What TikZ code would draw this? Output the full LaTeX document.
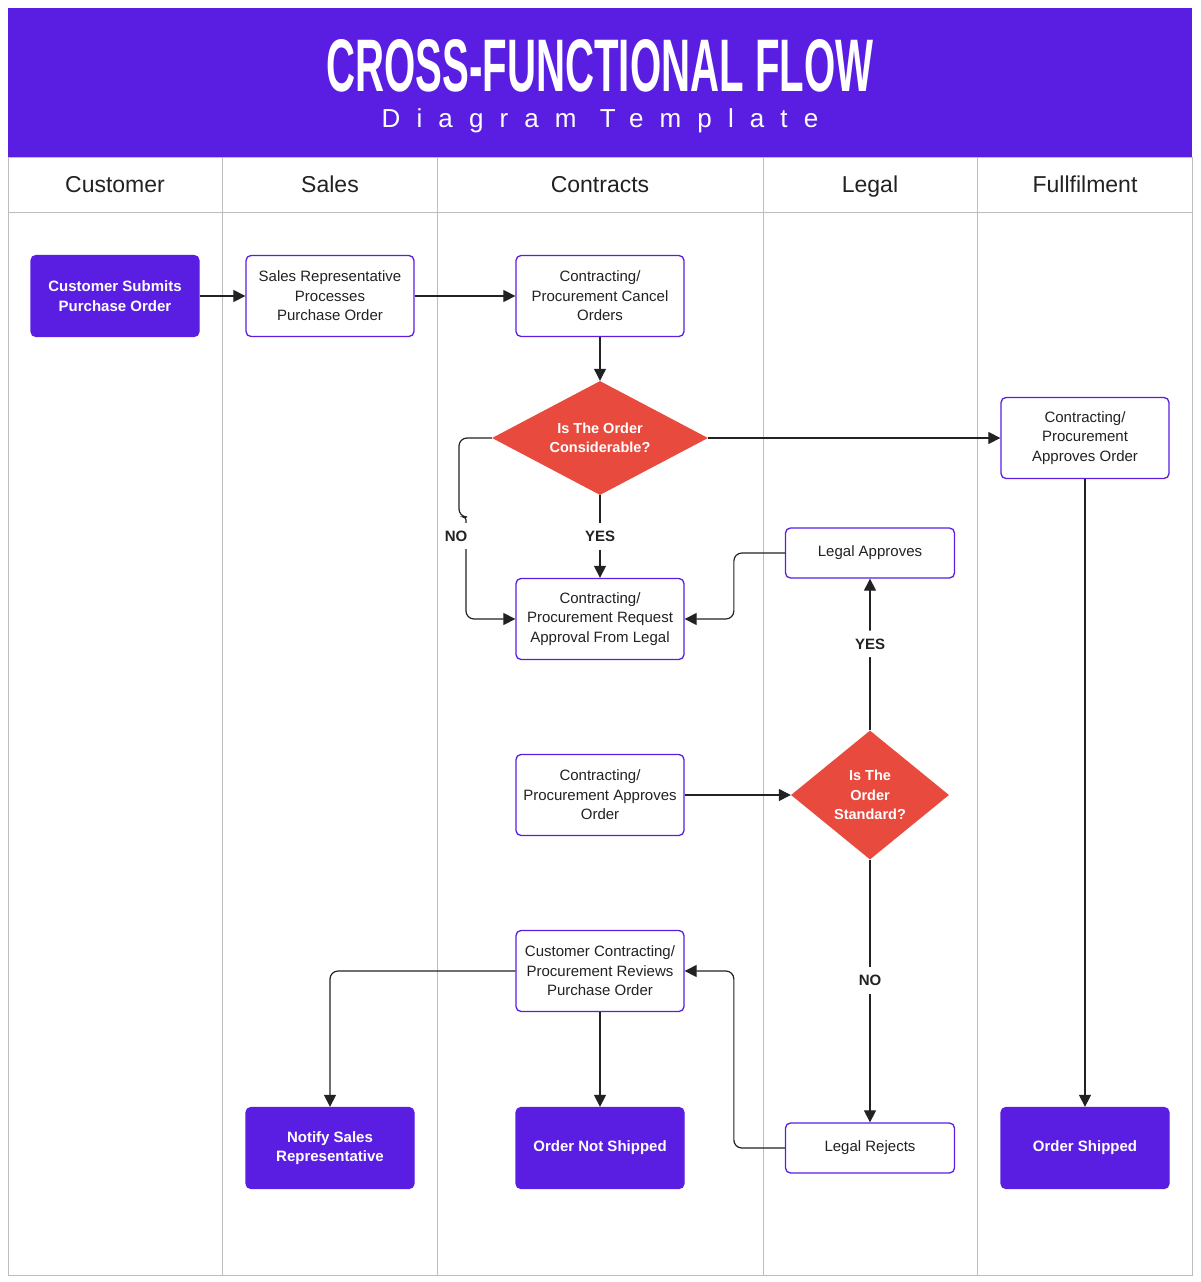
\documentclass[tikz,border=0pt]{standalone}
\usepackage{fontspec}
\setmainfont{Liberation Sans}
\newfontfamily\spacedfont[LetterSpace=62]{Liberation Sans}
\usetikzlibrary{arrows.meta, positioning, shapes.geometric}
\definecolor{lanePurple}{HTML}{5A1EE3}
\definecolor{decisionRed}{HTML}{E84A3E}
\definecolor{laneGrey}{HTML}{BDBDBD}
\definecolor{inkDark}{HTML}{222222}
\tikzset{CrossFlow/.style={
    x = 1pt, y = -1pt,
    base/.style = {draw=lanePurple, line width=1.3pt, rounded corners=5pt, minimum width=168pt, minimum height=81pt, align=center, inner sep=2pt},
    process/.style = {base, fill=white, text=inkDark, font=\fontsize{15}{19.5}\selectfont},
    shortproc/.style = {process, minimum width=169pt, minimum height=50pt},
    terminal/.style = {base, fill=lanePurple, text=white, font=\fontsize{15}{19.5}\selectfont\bfseries},
    decision/.style = {diamond, fill=decisionRed, text=white, inner sep=0pt, align=center, font=\fontsize{14.5}{19.5}\selectfont\bfseries},
    lanehead/.style = {anchor=base, text=inkDark, font=\fontsize{23}{26}\selectfont},
    lane/.style = {draw=laneGrey, line width=0.9pt},
    answer/.style = {fill=white, text=inkDark, inner xsep=2pt, inner ysep=8pt, font=\fontsize{15}{18}\selectfont\bfseries},
    flow/.style = {draw=inkDark, line width=1.2pt, rounded corners=8pt, -{Triangle[length=12pt, width=12pt]}}
}}

\begin{document}
\begin{tikzpicture}[CrossFlow]
    \useasboundingbox (0,0) rectangle (1200,1282);

    % header band and lanes
    \fill [lanePurple] (8,8) rectangle (1192,157);
    \node [inner sep=0pt, text=white] (title) at (600,66) {\resizebox{547pt}{52pt}{\bfseries CROSS-FUNCTIONAL FLOW}};
    \node [inner sep=0pt, anchor=base, text=white, font=\spacedfont\fontsize{26}{30}\selectfont] (subtitle) at (600,127) {Diagram Template};
    \draw [lane] (8,157) rectangle (1192,1275);
    \draw [lane] (8,212) -- (1192,212)
        (222,157) -- (222,1275)
        (437,157) -- (437,1275)
        (763,157) -- (763,1275)
        (977,157) -- (977,1275);
    \node [lanehead] (hdCustomer) at (115,192) {Customer};
    \node [lanehead] (hdSales) at (330,192) {Sales};
    \node [lanehead] (hdContracts) at (600,192) {Contracts};
    \node [lanehead] (hdLegal) at (870,192) {Legal};
    \node [lanehead] (hdFulfil) at (1085,192) {Fullfilment};

    % steps
    \node [terminal] (submit) at (115,296) {Customer Submits\\Purchase Order};
    \node [process] (salesRep) at (330,296) {Sales Representative\\Processes\\Purchase Order};
    \node [process] (cancel) at (600,296) {Contracting/\\Procurement Cancel\\Orders};
    \node [decision, aspect=1.9, minimum width=216pt, minimum height=114pt] (considerable) at (600,438) {Is The Order\\Considerable?};
    \node [process] (fulfilApproves) at (1085,438) {Contracting/\\Procurement\\Approves Order};
    \node [shortproc] (legalApproves) at (870,553) {Legal Approves};
    \node [process] (requestLegal) at (600,619) {Contracting/\\Procurement Request\\Approval From Legal};
    \node [process] (contractApproves) at (600,795) {Contracting/\\Procurement Approves\\Order};
    \node [decision, aspect=1.22, minimum width=158pt, minimum height=129pt] (standard) at (870,795) {Is The\\Order\\Standard?};
    \node [process] (reviews) at (600,971) {Customer Contracting/\\Procurement Reviews\\Purchase Order};
    \node [terminal] (notifySales) at (330,1148) {Notify Sales\\Representative};
    \node [terminal] (notShipped) at (600,1148) {Order Not Shipped};
    \node [shortproc] (legalRejects) at (870,1148) {Legal Rejects};
    \node [terminal] (shipped) at (1085,1148) {Order Shipped};

    % connectors
    \draw [flow] (submit) -- (salesRep);
    \draw [flow] (salesRep) -- (cancel);
    \draw [flow] (cancel) -- (considerable);
    \draw [flow] (considerable) -- (fulfilApproves);
    \draw [flow] (considerable) -- node [answer] {YES} (requestLegal);
    \draw [flow] (considerable.west) -- (459,438) -- (459,517) [rounded corners=3pt] -- (466,517) [rounded corners=8pt] -- (466,619) -- (requestLegal.west);
    \node [answer] (noConsiderable) at (456,536) {NO};
    \draw [flow] (legalApproves.west) -- ++(-51,0) |- (requestLegal.east);
    \draw [flow] (standard) -- node [answer, pos=0.57] {YES} (legalApproves);
    \draw [flow] (contractApproves) -- (standard);
    \draw [flow] (standard) -- node [answer, pos=0.46] {NO} (legalRejects);
    \draw [flow] (legalRejects.west) -- ++(-51,0) |- (reviews.east);
    \draw [flow] (reviews.west) -| (notifySales.north);
    \draw [flow] (reviews) -- (notShipped);
    \draw [flow] (fulfilApproves) -- (shipped);
\end{tikzpicture}
\end{document}
